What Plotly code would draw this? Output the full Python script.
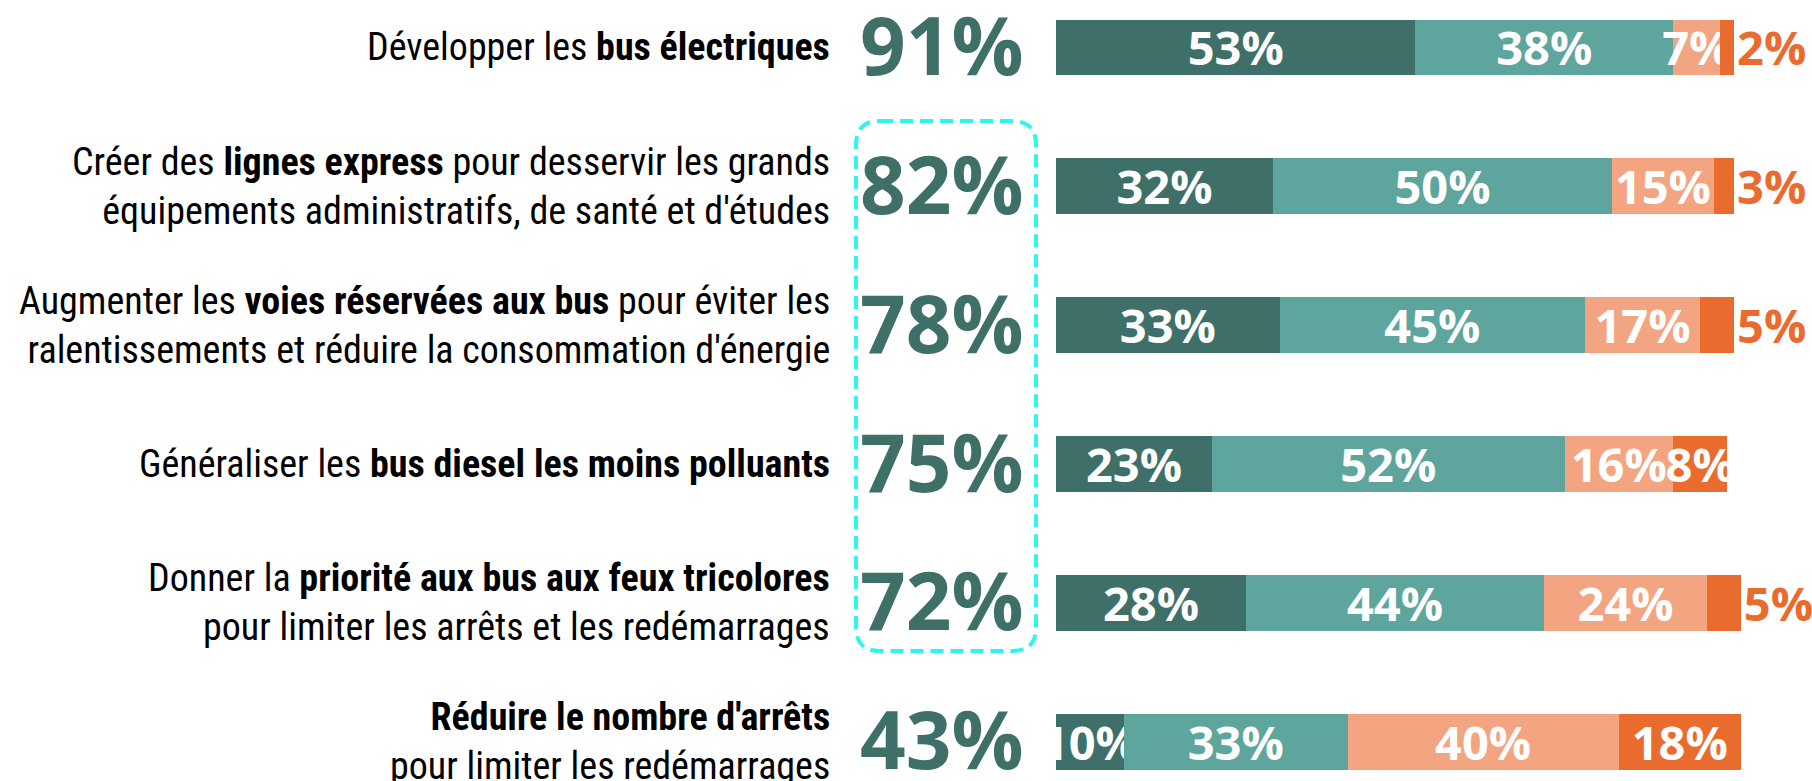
import plotly.graph_objects as go

# ---------------- data ----------------
categories = [
    "Développer les <b>bus électriques</b>",
    "Créer des <b>lignes express</b> pour desservir les grands<br>équipements administratifs, de santé et d'études",
    "Augmenter les <b>voies réservées aux bus</b> pour éviter les<br>ralentissements et réduire la consommation d'énergie",
    "Généraliser les <b>bus diesel les moins polluants</b>",
    "Donner la <b>priorité aux bus aux feux tricolores</b><br>pour limiter les arrêts et les redémarrages",
    "<b>Réduire le nombre d'arrêts</b><br>pour limiter les redémarrages",
]
tres_favorable = [53, 32, 33, 23, 28, 10]
plutot_favorable = [38, 50, 45, 52, 44, 33]
plutot_defavorable = [7, 15, 17, 16, 24, 40]
tres_defavorable = [2, 3, 5, 8, 5, 18]
total_favorable = [91, 82, 78, 75, 72, 43]
last_text_position = ["outside", "outside", "outside", "inside", "outside", "inside"]

series_names = ["Très favorable", "Plutôt favorable", "Plutôt défavorable", "Très défavorable"]
series_values = [tres_favorable, plutot_favorable, plutot_defavorable, tres_defavorable]
series_colors = ["#3E6F68", "#5EA59D", "#F3A582", "#EA6B2E"]

# ---------------- layout constants ----------------
W, H = 1812, 781
PLOT_LEFT = 1056
X_MAX = 111.5
Y_RANGE = [5.282, -0.342]
BAR_FONT = "Open Sans"
LABEL_FONT = "Liberation Sans Narrow, Roboto Condensed, Roboto"
BIG_COLOR = "#3F7068"

fig = go.Figure()
for i, (name, vals, col) in enumerate(zip(series_names, series_values, series_colors)):
    last = i == len(series_names) - 1
    fig.add_trace(go.Bar(
        name=name,
        y=categories,
        x=vals,
        orientation="h",
        marker=dict(color=col, line=dict(width=0)),
        texttemplate="%{x}%",
        textposition=last_text_position if last else "inside",
        insidetextanchor="middle",
        textangle=0,
        constraintext="none",
        insidetextfont=dict(family=BAR_FONT, size=47, color="white", weight="bold"),
        outsidetextfont=dict(family=BAR_FONT, size=47, color=series_colors[3], weight="bold"),
        cliponaxis=True,
        hoverinfo="skip",
        showlegend=False,
    ))

# left labels
for cat in categories:
    fig.add_annotation(
        xref="paper", yref="y", x=0, y=cat, xshift=-(PLOT_LEFT - 832),
        text=cat, showarrow=False, xanchor="right", yanchor="middle", align="right",
        font=dict(family=LABEL_FONT, size=38, color="#000000"),
    )
# big favourable totals
for cat, tot in zip(categories, total_favorable):
    fig.add_annotation(
        xref="paper", yref="y", x=0, y=cat, xshift=-30, yshift=4,
        text=f"{tot}%", showarrow=False, xanchor="right", yanchor="middle",
        font=dict(family="Open Sans", size=80, color=BIG_COLOR, weight="bold"),
    )

# dashed rounded box (pixel geometry converted to paper coords)
def px(xp):
    return (xp - PLOT_LEFT) / (W - PLOT_LEFT)

def py(yp):
    return 1 - yp / H

bx0, bx1, by0, by1, r = 856, 1036, 121, 651, 24
path = (
    f"M {px(bx0 + r)},{py(by0)} L {px(bx1 - r)},{py(by0)} "
    f"Q {px(bx1)},{py(by0)} {px(bx1)},{py(by0 + r)} "
    f"L {px(bx1)},{py(by1 - r)} Q {px(bx1)},{py(by1)} {px(bx1 - r)},{py(by1)} "
    f"L {px(bx0 + r)},{py(by1)} Q {px(bx0)},{py(by1)} {px(bx0)},{py(by1 - r)} "
    f"L {px(bx0)},{py(by0 + r)} Q {px(bx0)},{py(by0)} {px(bx0 + r)},{py(by0)} Z"
)
fig.add_shape(type="path", xref="paper", yref="paper", path=path,
              line=dict(color="#30F4EE", width=4, dash="13px,7px"))

fig.update_layout(
    width=W, height=H,
    margin=dict(l=PLOT_LEFT, r=0, t=0, b=0, pad=0),
    barmode="stack",
    bargap=0.597,
    plot_bgcolor="white", paper_bgcolor="white",
    xaxis=dict(range=[0, X_MAX], visible=False, fixedrange=True),
    yaxis=dict(range=Y_RANGE, showticklabels=False, showgrid=False, zeroline=False,
               showline=False, ticks="", fixedrange=True),
)

fig.write_html("out.html", config={"displayModeBar": False},
               post_script="document.body.style.margin='0';document.body.style.overflow='hidden';")
